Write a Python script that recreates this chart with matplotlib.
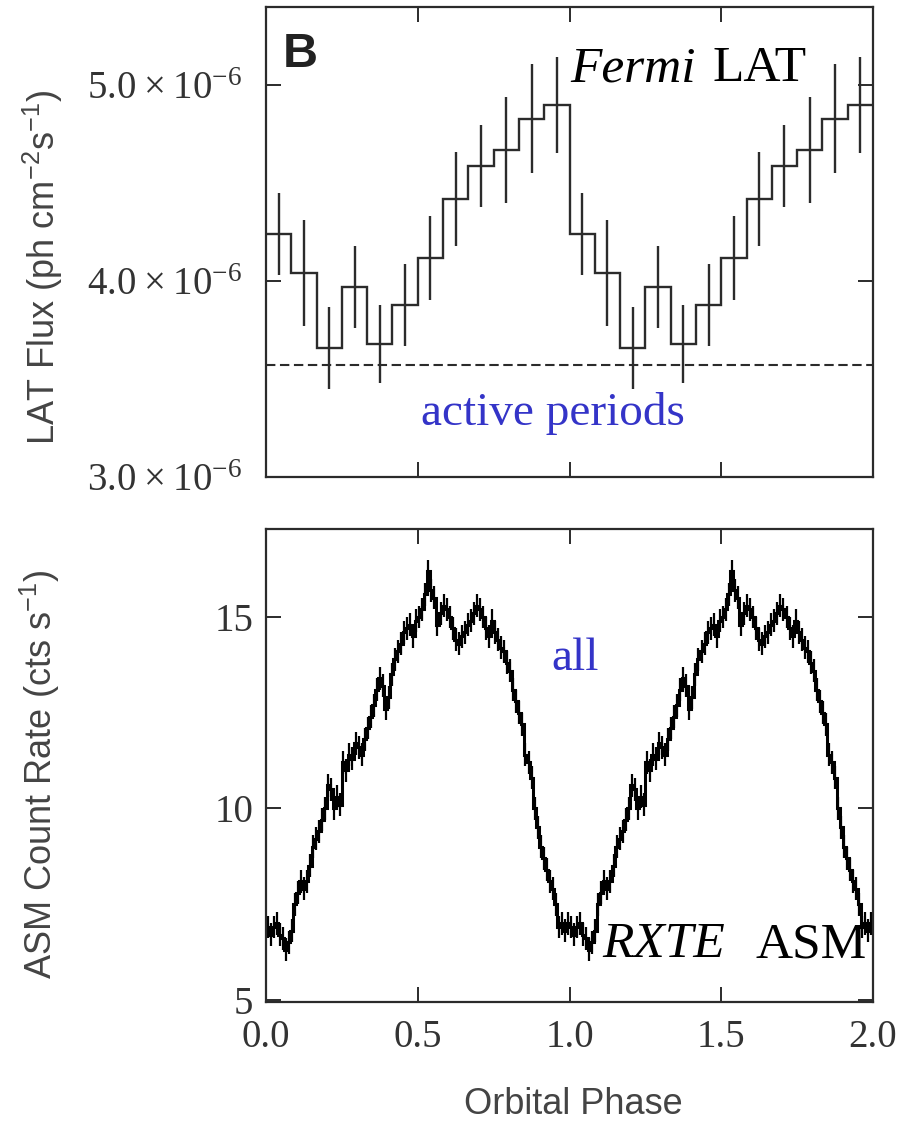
import numpy as np
import matplotlib
matplotlib.use('Agg')
import matplotlib.pyplot as plt

plt.rcParams['mathtext.fontset'] = 'custom'
plt.rcParams['mathtext.default'] = 'regular'

# Fermi LAT folded light curve, 12 bins per orbit (units of 1e-6 ph cm-2 s-1)
lat_flux = [4.24, 4.04, 3.66, 3.97, 3.68, 3.88, 4.12, 4.42, 4.59, 4.67, 4.83, 4.90]
lat_err = [0.21, 0.27, 0.21, 0.21, 0.20, 0.21, 0.215, 0.24, 0.21, 0.27, 0.28, 0.245]
active_level = 3.57
lat_ticks = [3.0, 4.0, 5.0]
lat_ticklabels = [r'$3.0\times10^{-6}$', r'$4.0\times10^{-6}$', r'$5.0\times10^{-6}$']

# RXTE ASM folded light curve, 100 bins per orbit (cts/s)
asm_rate = [6.9, 6.7, 6.9, 7.0, 6.7, 6.6, 6.3, 6.5, 6.8, 7.5,
            7.8, 8.1, 7.9, 8.1, 8.5, 9.0, 9.2, 9.4, 9.7, 10.0,
            10.6, 10.5, 10.0, 10.3, 10.1, 11.2, 11.0, 11.4, 11.3, 11.7,
            11.6, 11.4, 11.8, 12.1, 12.4, 12.7, 13.1, 13.4, 13.2, 12.6,
            12.9, 13.5, 13.9, 14.1, 14.3, 14.6, 14.7, 14.8, 14.5, 14.9,
            15.0, 15.2, 15.6, 16.2, 15.7, 15.5, 14.8, 15.1, 15.3, 15.2,
            15.0, 14.7, 14.4, 14.3, 14.5, 14.6, 14.8, 14.9, 15.1, 15.3,
            15.2, 15.0, 14.7, 14.5, 14.9, 14.6, 14.4, 14.2, 14.1, 13.8,
            13.6, 13.1, 12.8, 12.5, 12.2, 11.4, 11.2, 10.8, 10.0, 9.5,
            9.0, 8.7, 8.4, 8.1, 7.9, 7.5, 6.9, 7.0, 6.8, 7.0]
asm_err = 0.3
asm_ticks = [5, 10, 15]
phase_ticks = [0.0, 0.5, 1.0, 1.5, 2.0]
phase_ticklabels = ['0.0', '0.5', '1.0', '1.5', '2.0']

serif = 'Liberation Serif'
sans = 'Liberation Sans'
ink = '#2b2b2b'
blue = '#3434c8'
W, H = 911, 1121

fig = plt.figure(figsize=(W / 100, H / 100), dpi=100)
ax1 = fig.add_axes([266 / W, 1 - 477 / H, 607 / W, 470 / H])
ax2 = fig.add_axes([266 / W, 1 - 1002 / H, 607 / W, 473 / H])

# top panel
n = len(lat_flux)
edges = np.linspace(0, 2, 2 * n + 1)
mids = (edges[:-1] + edges[1:]) / 2
flux = np.tile(lat_flux, 2)
ax1.stairs(flux, edges, baseline=None, color=ink, lw=1.7)
ax1.errorbar(mids, flux, yerr=np.tile(lat_err, 2), fmt='none', ecolor=ink, elinewidth=1.7, capsize=0)
ax1.axhline(active_level, color=ink, lw=1.5, ls=(0, (4.5, 2.2)))
ax1.set_xlim(0, 2)
ax1.set_ylim(3.0, 5.4)
ax1.set_yticks(lat_ticks)
ax1.set_yticklabels(lat_ticklabels)
ax1.set_xticks([0.5, 1.0, 1.5])
ax1.tick_params(labelbottom=False)
ax1.tick_params(axis='y', pad=17)

# bottom panel
m = len(asm_rate)
edges2 = np.linspace(0, 2, 2 * m + 1)
mids2 = (edges2[:-1] + edges2[1:]) / 2
rate = np.tile(asm_rate, 2)
ax2.stairs(rate, edges2, baseline=None, color='black', lw=2.2)
ax2.errorbar(mids2, rate, yerr=asm_err, fmt='none', ecolor='black', elinewidth=1.6, capsize=0)
ax2.set_xlim(0, 2)
ax2.set_ylim(4.94, 17.3)
ax2.set_yticks(asm_ticks)
ax2.set_xticks(phase_ticks)
ax2.set_xticklabels(phase_ticklabels)
ax2.tick_params(axis='y', pad=9)
ax2.tick_params(axis='x', pad=12)

for ax in (ax1, ax2):
    ax.tick_params(direction='in', length=11, width=1.4, top=True, right=True,
                   labelsize=28, labelcolor='#333333', color=ink)
    for lab in ax.get_xticklabels() + ax.get_yticklabels():
        lab.set_fontfamily(serif)
    for s in ax.spines.values():
        s.set_linewidth(1.6)
        s.set_color(ink)

# annotations
fig.text(283 / W, 1 - 67 / H, 'B', family=sans, weight='bold', size=35, color='#222222', va='baseline')
fig.text(570 / W, 1 - 81 / H, 'Fermi', family=serif, style='italic', size=37, va='baseline')
fig.text(712 / W, 1 - 81 / H, 'LAT', family=serif, size=37, va='baseline')
fig.text(553 / W, 1 - 425 / H, 'active periods', family=serif, size=34, color=blue, ha='center', va='baseline')
fig.text(551 / W, 1 - 670 / H, 'all', family=serif, size=34, color=blue, va='baseline')
fig.text(602 / W, 1 - 957 / H, 'RXTE', family=serif, style='italic', size=37, va='baseline')
fig.text(755 / W, 1 - 957 / H, 'ASM', family=serif, size=37, va='baseline')

fig.text(43 / W, 1 - 267 / H, 'LAT Flux (ph cm$^{-2}$s$^{-1}$)', family=sans, size=26,
         color='#444444', rotation=90, ha='center', va='center')
fig.text(40 / W, 1 - 774 / H, 'ASM Count Rate (cts s$^{-1}$)', family=sans, size=26,
         color='#444444', rotation=90, ha='center', va='center')
fig.text(573 / W, 1 - 1105 / H, 'Orbital Phase', family=sans, size=26, color='#444444',
         ha='center', va='center')

fig.savefig('out.png', dpi=100)
